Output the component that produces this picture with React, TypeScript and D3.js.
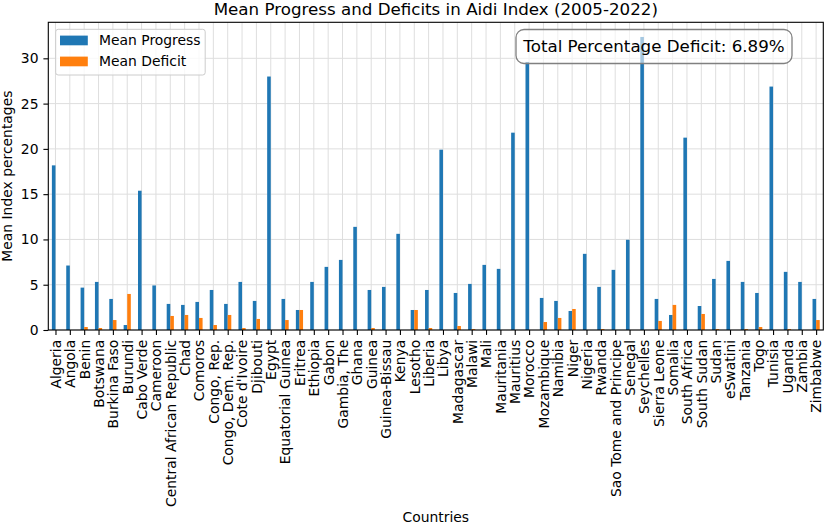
import React, { useEffect, useRef } from 'react';
import * as d3 from 'd3';

const countries = [
  'Algeria', 'Angola', 'Benin', 'Botswana', 'Burkina Faso', 'Burundi', 'Cabo Verde', 'Cameroon',
  'Central African Republic', 'Chad', 'Comoros', 'Congo, Rep.', 'Congo, Dem. Rep.', "Cote d'Ivoire",
  'Djibouti', 'Egypt', 'Equatorial Guinea', 'Eritrea', 'Ethiopia', 'Gabon', 'Gambia, The', 'Ghana',
  'Guinea', 'Guinea-Bissau', 'Kenya', 'Lesotho', 'Liberia', 'Libya', 'Madagascar', 'Malawi', 'Mali',
  'Mauritania', 'Mauritius', 'Morocco', 'Mozambique', 'Namibia', 'Niger', 'Nigeria', 'Rwanda',
  'Sao Tome and Principe', 'Senegal', 'Seychelles', 'Sierra Leone', 'Somalia', 'South Africa',
  'South Sudan', 'Sudan', 'eSwatini', 'Tanzania', 'Togo', 'Tunisia', 'Uganda', 'Zambia', 'Zimbabwe',
];

const meanProgress = [
  18.18, 7.12, 4.68, 5.31, 3.43, 0.55, 15.38, 4.92,
  2.88, 2.77, 3.1, 4.42, 2.88, 5.31,
  3.21, 27.99, 3.43, 2.21, 5.31, 6.97, 7.74, 11.39,
  4.42, 4.76, 10.62, 2.21, 4.42, 19.91, 4.09, 5.09, 7.19,
  6.75, 21.79, 29.6, 3.54, 3.21, 2.1, 8.41, 4.76,
  6.64, 9.96, 32.36, 3.43, 1.66, 21.24,
  2.65, 5.64, 7.63, 5.31, 4.09, 26.88, 6.42, 5.31, 3.43,
];

const meanDeficit = [
  0, 0, 0.33, 0.22, 1.1, 3.98, 0, 0,
  1.55, 1.66, 1.33, 0.55, 1.66, 0.22,
  1.22, 0, 1.1, 2.21, 0, 0, 0, 0,
  0.22, 0, 0, 2.21, 0.22, 0, 0.44, 0.11, 0,
  0, 0, 0, 0.88, 1.33, 2.32, 0, 0.11,
  0, 0, 0, 1.0, 2.77, 0,
  1.77, 0.11, 0, 0.11, 0.33, 0, 0.11, 0, 1.1,
];

const yTicks = [0, 5, 10, 15, 20, 25, 30];
const totalDeficitLabel = 'Total Percentage Deficit: 6.89%';

const App: React.FC = () => {
  const svgRef = useRef<SVGSVGElement>(null);

  useEffect(() => {
    if (!svgRef.current) return;
    const svg = d3.select(svgRef.current);
    svg.selectAll('*').remove();

    const left = 48.3;
    const right = 823.3;
    const top = 22.3;
    const bottom = 330;
    const font = 'DejaVu Sans, sans-serif';

    const x = d3.scaleLinear().domain([-0.5, countries.length - 0.5]).range([left, right]);
    const yMax = (d3.max(meanProgress) || 0) * 1.05;
    const y = d3.scaleLinear().domain([0, yMax]).range([bottom, top]);
    const barW = x(0.25) - x(0);

    // grid
    const grid = svg.append('g');
    grid.selectAll('.gx')
      .data(countries)
      .enter()
      .append('line')
      .attr('x1', (_, i) => x(i))
      .attr('x2', (_, i) => x(i))
      .attr('y1', top)
      .attr('y2', bottom)
      .attr('stroke', '#dedede')
      .attr('stroke-width', 1);
    grid.selectAll('.gy')
      .data(yTicks)
      .enter()
      .append('line')
      .attr('x1', left)
      .attr('x2', right)
      .attr('y1', (d) => y(d))
      .attr('y2', (d) => y(d))
      .attr('stroke', '#dedede')
      .attr('stroke-width', 1);

    // bars
    svg.append('g')
      .selectAll('rect')
      .data(meanProgress)
      .enter()
      .append('rect')
      .attr('x', (_, i) => x(i - 0.25))
      .attr('y', (d) => y(d))
      .attr('width', barW)
      .attr('height', (d) => bottom - y(d))
      .attr('fill', '#1f77b4');
    svg.append('g')
      .selectAll('rect')
      .data(meanDeficit)
      .enter()
      .append('rect')
      .attr('x', (_, i) => x(i))
      .attr('y', (d) => y(d))
      .attr('width', barW)
      .attr('height', (d) => bottom - y(d))
      .attr('fill', '#ff7f0e');

    // axes
    const xAxis = svg.append('g')
      .attr('transform', `translate(0,${bottom})`)
      .call(
        d3.axisBottom(x)
          .tickValues(d3.range(countries.length))
          .tickFormat((d) => countries[d as number])
          .tickSize(4.9)
          .tickPadding(4.9)
      );
    xAxis.select('.domain').remove();
    xAxis.selectAll('.tick line').attr('stroke', '#000').attr('stroke-width', 1.1);
    xAxis.selectAll('.tick text')
      .attr('font-family', font)
      .attr('font-size', 13.9)
      .attr('fill', '#000')
      .attr('text-anchor', 'end')
      .attr('dy', '0.35em')
      .attr('transform', 'rotate(-90)')
      .attr('x', -9.8)
      .attr('y', 0);

    const yAxis = svg.append('g')
      .attr('transform', `translate(${left},0)`)
      .call(d3.axisLeft(y).tickValues(yTicks).tickSize(4.9).tickPadding(4.9));
    yAxis.select('.domain').remove();
    yAxis.selectAll('.tick line').attr('stroke', '#000').attr('stroke-width', 1.1);
    yAxis.selectAll('.tick text')
      .attr('font-family', font)
      .attr('font-size', 13.9)
      .attr('fill', '#000');

    // frame
    svg.append('rect')
      .attr('x', left)
      .attr('y', top)
      .attr('width', right - left)
      .attr('height', bottom - top)
      .attr('fill', 'none')
      .attr('stroke', '#000')
      .attr('stroke-width', 1.1);

    // labels
    svg.append('text')
      .attr('x', (left + right) / 2)
      .attr('y', 15)
      .attr('text-anchor', 'middle')
      .attr('font-family', font)
      .attr('font-size', 16.7)
      .text('Mean Progress and Deficits in Aidi Index (2005-2022)');
    svg.append('text')
      .attr('x', (left + right) / 2)
      .attr('y', 522)
      .attr('text-anchor', 'middle')
      .attr('font-family', font)
      .attr('font-size', 13.9)
      .text('Countries');
    svg.append('text')
      .attr('transform', `translate(12,${(top + bottom) / 2}) rotate(-90)`)
      .attr('text-anchor', 'middle')
      .attr('font-family', font)
      .attr('font-size', 13.9)
      .text('Mean Index percentages');

    // legend
    const lg = svg.append('g');
    lg.append('rect')
      .attr('x', 55.7)
      .attr('y', 29.3)
      .attr('width', 149.5)
      .attr('height', 45.7)
      .attr('rx', 2.5)
      .attr('fill', 'white')
      .attr('fill-opacity', 0.8)
      .attr('stroke', '#cccccc')
      .attr('stroke-width', 1);
    const items = [
      { label: 'Mean Progress', color: '#1f77b4' },
      { label: 'Mean Deficit', color: '#ff7f0e' },
    ];
    items.forEach((it, i) => {
      const cy = 40.5 + i * 21;
      lg.append('rect')
        .attr('x', 60)
        .attr('y', cy - 4.9)
        .attr('width', 27.8)
        .attr('height', 9.7)
        .attr('fill', it.color);
      lg.append('text')
        .attr('x', 99)
        .attr('y', cy)
        .attr('dy', '0.35em')
        .attr('font-family', font)
        .attr('font-size', 13.9)
        .text(it.label);
    });

    // annotation box
    svg.append('rect')
      .attr('x', 516)
      .attr('y', 29.5)
      .attr('width', 276)
      .attr('height', 34)
      .attr('rx', 8)
      .attr('fill', 'white')
      .attr('fill-opacity', 0.6)
      .attr('stroke', '#808080')
      .attr('stroke-width', 1.3);
    svg.append('text')
      .attr('x', 654)
      .attr('y', 46.5)
      .attr('dy', '0.35em')
      .attr('text-anchor', 'middle')
      .attr('font-family', font)
      .attr('font-size', 16.7)
      .text(totalDeficitLabel);
  }, []);

  return (
    <svg
      ref={svgRef}
      width="825"
      height="524"
      style={{ position: 'absolute', left: 0, top: 0, background: 'white' }}
    />
  );
};

export default App;
